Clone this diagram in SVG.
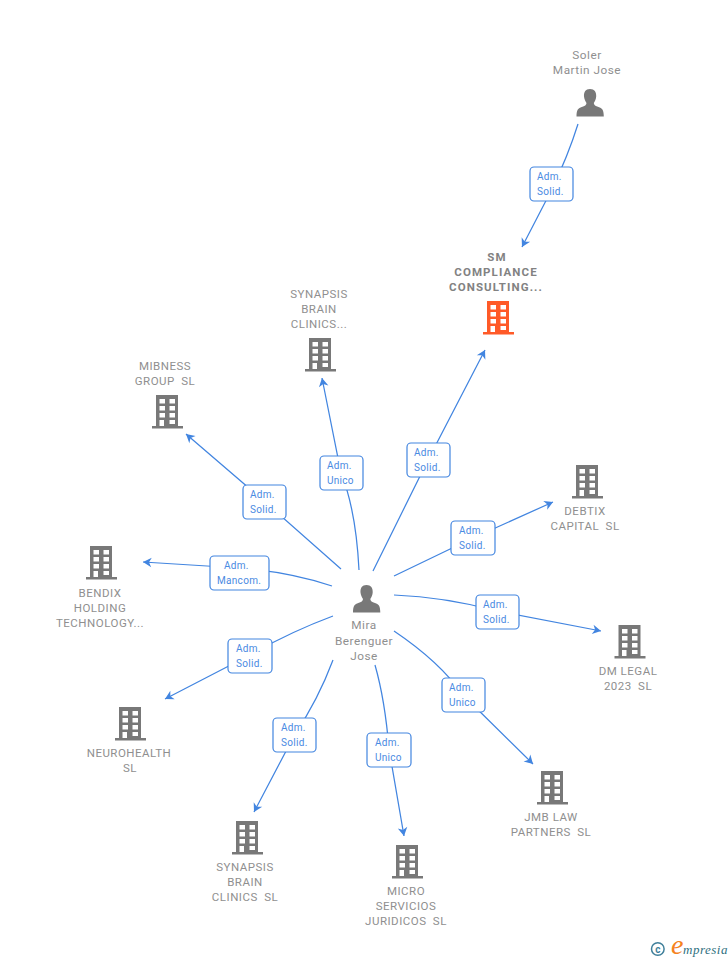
<svg xmlns="http://www.w3.org/2000/svg" width="728" height="960" viewBox="0 0 728 960">
<style>
text{font-family:Roboto,"Liberation Sans",sans-serif}
.n{font-size:11.5px;fill:#8f8f8f;text-anchor:middle;letter-spacing:.5px}
.w{word-spacing:3px}
.p{font-size:11.8px}
.b{font-weight:700;fill:#828282;letter-spacing:1.1px}
.c{fill:none;stroke:#4285e0;stroke-width:1.25;marker-end:url(#arr)}
.l{fill:#fff;stroke:#4285e0;stroke-width:1.2}
.t{font-size:10px;fill:#4a8ae2;letter-spacing:.3px}
.g{fill:#787878}
</style>
<defs>
<marker id="arr" markerUnits="userSpaceOnUse" markerWidth="12" markerHeight="12" viewBox="-10 -6 12 12" refX="0" refY="0" orient="auto" overflow="visible">
<path d="M0 0L-8.500 -4.800L-6 0L-8.500 4.800Z" fill="#4285e0"/>
</marker>
<symbol id="bld" viewBox="0 0 34 35" overflow="visible">
<path fill-rule="evenodd" d="M5 0H27V31H32V33.500H1V31H5ZM8.500 4V8.500H14V4ZM18.500 4V8.500H24V4ZM8.500 11V15.500H14V11ZM18.500 11V15.500H24V11ZM8.500 18V22.500H14V18ZM18.500 18V22.500H24V18ZM8.500 25V31H13V25ZM18.500 25V29H24V25Z"/>
</symbol>
<symbol id="per" viewBox="0 0 28 28" overflow="visible">
<path d="M14 0C18.500 0 20.500 3 20.200 7.500C20 10.500 18.800 12.500 17.800 14C17.800 16 19.500 17 22.500 18C26 19.200 27.800 20.500 27.800 27.500H.5C.5 20.500 2.300 19.200 5.800 18C8.800 17 10.500 16 10.500 14C9.500 12.500 8.300 10.500 8 7.500C7.700 3 9.500 0 14 0Z"/>
</symbol>
</defs>
<g id="connectors">
<path class="c" d="M578 124Q568 156 551.500 190L522 247"/>
<path class="c" d="M373 571L428 460L485 350"/>
<path class="c" d="M359 570Q356 510 341 473L322 378"/>
<path class="c" d="M341 569L264 501L186 434"/>
<path class="c" d="M332 586Q290 572 239 568L143 562"/>
<path class="c" d="M333 616Q290 632 250 655L165 699"/>
<path class="c" d="M333 660Q318 700 295 734L254 812"/>
<path class="c" d="M375 665Q385 700 389 749L404 836"/>
<path class="c" d="M394 631Q440 662 463 695L533 764"/>
<path class="c" d="M394 595Q445 597 497 611L601 631"/>
<path class="c" d="M394 576L473 538L553 502"/>
</g>
<g id="edge-labels">
<g id="lbl1"><rect class="l" x="530" y="167" width="43" height="34" rx="4"/><text class="t" x="537" y="180">Adm.</text><text class="t" x="537" y="195">Solid.</text></g>
<g id="lbl2"><rect class="l" x="407" y="443" width="43" height="34" rx="4"/><text class="t" x="414" y="456">Adm.</text><text class="t" x="414" y="471">Solid.</text></g>
<g id="lbl3"><rect class="l" x="320" y="456" width="43" height="34" rx="4"/><text class="t" x="327" y="469">Adm.</text><text class="t" x="327" y="484">Unico</text></g>
<g id="lbl4"><rect class="l" x="243" y="485" width="43" height="34" rx="4"/><text class="t" x="250" y="498">Adm.</text><text class="t" x="250" y="513">Solid.</text></g>
<g id="lbl5"><rect class="l" x="210" y="556" width="59" height="34" rx="4"/><text class="t" x="224" y="569">Adm.</text><text class="t" x="217" y="584">Mancom.</text></g>
<g id="lbl6"><rect class="l" x="228" y="639" width="44" height="34" rx="4"/><text class="t" x="236" y="652">Adm.</text><text class="t" x="236" y="667">Solid.</text></g>
<g id="lbl7"><rect class="l" x="273" y="718" width="43" height="34" rx="4"/><text class="t" x="281" y="731">Adm.</text><text class="t" x="281" y="746">Solid.</text></g>
<g id="lbl8"><rect class="l" x="367" y="733" width="44" height="34" rx="4"/><text class="t" x="375" y="746">Adm.</text><text class="t" x="375" y="761">Unico</text></g>
<g id="lbl9"><rect class="l" x="442" y="678" width="43" height="34" rx="4"/><text class="t" x="449" y="691">Adm.</text><text class="t" x="449" y="706">Unico</text></g>
<g id="lbl10"><rect class="l" x="476" y="595" width="43" height="34" rx="4"/><text class="t" x="483" y="608">Adm.</text><text class="t" x="483" y="623">Solid.</text></g>
<g id="lbl11"><rect class="l" x="451" y="521" width="44" height="34" rx="4"/><text class="t" x="459" y="534">Adm.</text><text class="t" x="459" y="549">Solid.</text></g>
</g>
<g id="soler"><text class="n p" x="587" y="59">Soler</text><text class="n p" x="587" y="74">Martin Jose</text><use href="#per" class="g" x="576" y="89" width="28" height="28"/></g>
<g id="mira"><use href="#per" class="g" x="352.500" y="585" width="28" height="28"/><text class="n p" x="364" y="629">Mira</text><text class="n p" x="364" y="645">Berenguer</text><text class="n p" x="364" y="660">Jose</text></g>
<g id="sm"><text class="n b" x="497" y="261">SM</text><text class="n b" x="496" y="276">COMPLIANCE</text><text class="n b" x="496" y="291">CONSULTING...</text><use href="#bld" fill="#ff5a28" x="482" y="301" width="34" height="35"/></g>
<g id="synapsis1"><text class="n" x="319" y="298">SYNAPSIS</text><text class="n" x="319" y="313">BRAIN</text><text class="n" x="319" y="328">CLINICS...</text><use href="#bld" class="g" x="304" y="338" width="34" height="35"/></g>
<g id="mibness"><text class="n" x="165" y="370">MIBNESS</text><text class="n w" x="165" y="385">GROUP SL</text><use href="#bld" class="g" x="151" y="395" width="34" height="35"/></g>
<g id="bendix"><use href="#bld" class="g" x="85" y="546" width="34" height="35"/><text class="n" x="100" y="597">BENDIX</text><text class="n" x="100" y="612">HOLDING</text><text class="n" x="100" y="627">TECHNOLOGY...</text></g>
<g id="neurohealth"><use href="#bld" class="g" x="114" y="707" width="34" height="35"/><text class="n" x="129" y="757">NEUROHEALTH</text><text class="n" x="130" y="772">SL</text></g>
<g id="synapsis2"><use href="#bld" class="g" x="231" y="821" width="34" height="35"/><text class="n" x="245" y="871">SYNAPSIS</text><text class="n" x="245" y="886">BRAIN</text><text class="n w" x="245" y="901">CLINICS SL</text></g>
<g id="micro"><use href="#bld" class="g" x="391" y="845" width="34" height="35"/><text class="n" x="406" y="895">MICRO</text><text class="n" x="406" y="910">SERVICIOS</text><text class="n w" x="406" y="925">JURIDICOS SL</text></g>
<g id="jmb"><use href="#bld" class="g" x="536" y="771" width="34" height="35"/><text class="n" x="551" y="821">JMB LAW</text><text class="n w" x="551" y="836">PARTNERS SL</text></g>
<g id="dmlegal"><use href="#bld" class="g" x="613.500" y="625" width="34" height="35"/><text class="n" x="628" y="675">DM LEGAL</text><text class="n w" x="628" y="690">2023 SL</text></g>
<g id="debtix"><use href="#bld" class="g" x="571" y="465" width="34" height="35"/><text class="n" x="585" y="515">DEBTIX</text><text class="n w" x="585" y="530">CAPITAL SL</text></g>
<g id="logo"><circle cx="657.800" cy="949" r="6.300" fill="none" stroke="#3f7f9a" stroke-width="1.500"/><text x="657.800" y="952.500" font-size="10" fill="#3f7f9a" text-anchor="middle" font-weight="700">c</text><text x="671" y="954" font-size="28" fill="#f58220" font-style="italic" style="font-family:'Liberation Serif',serif">e</text><text x="683" y="953.500" font-size="13" fill="#2f7080" font-style="italic" style="font-family:'Liberation Serif',serif" letter-spacing=".5">mpresia</text></g>
</svg>
